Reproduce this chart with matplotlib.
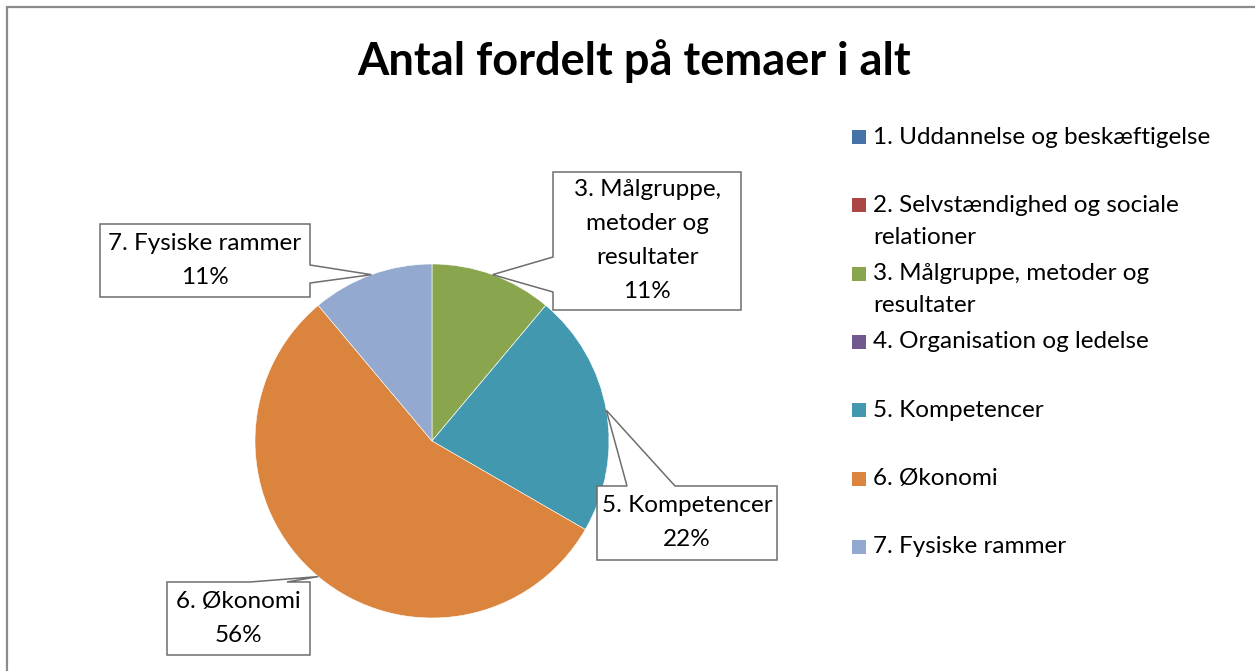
import matplotlib

matplotlib.use("Agg")
import matplotlib.pyplot as plt
from matplotlib.patches import Polygon, Rectangle
import numpy as np

plt.rcParams["font.family"] = ["Lato", "DejaVu Sans"]

# data
themes = [
    "1. Uddannelse og beskæftigelse",
    "2. Selvstændighed og sociale relationer",
    "3. Målgruppe, metoder og resultater",
    "4. Organisation og ledelse",
    "5. Kompetencer",
    "6. Økonomi",
    "7. Fysiske rammer",
]
legend_text = [
    "1. Uddannelse og beskæftigelse",
    "2. Selvstændighed og sociale\nrelationer",
    "3. Målgruppe, metoder og\nresultater",
    "4. Organisation og ledelse",
    "5. Kompetencer",
    "6. Økonomi",
    "7. Fysiske rammer",
]
counts = [0, 0, 1, 0, 2, 5, 1]
colors = ["#4572A7", "#AA4643", "#89A54E", "#71588F", "#4198AF", "#DB843D", "#93A9CF"]
label_text = {
    2: "3. Målgruppe,\nmetoder og\nresultater",
    4: "5. Kompetencer",
    5: "6. Økonomi",
    6: "7. Fysiske rammer",
}

W, H = 1255, 671
fig = plt.figure(figsize=(W / 100, H / 100), dpi=100)
ax = fig.add_axes([0, 0, 1, 1])


def py(y):
    # pixel row -> data y
    return H - y


cx, cy, r = 432, py(441), 177
wedges, _ = ax.pie(counts, colors=colors, startangle=90, counterclock=False,
                   center=(cx, cy), radius=r, frame=True,
                   wedgeprops=dict(edgecolor="white", linewidth=0.4))
ax.set_xlim(0, W)
ax.set_ylim(0, H)
ax.set_aspect("equal")
ax.axis("off")

# outer chart border
ax.plot([7, 7, W], [0, py(7), py(7)], color="#8c8c8c", lw=1.6, solid_joinstyle="miter")

ax.text(634, py(61), "Antal fordelt på temaer i alt", ha="center", va="center",
        fontsize=32.5, fontweight="bold")

# callout boxes: (x0, y0, x1, y1) in pixels, side of the pointer, base points along that side
boxes = {
    2: ((553, 172, 741, 310), "left", (257, 292)),
    4: ((597, 486, 777, 560), "top", (627, 675)),
    5: ((167, 582, 310, 655), "top", (250, 287)),
    6: ((100, 224, 310, 297), "right", (265, 283)),
}

total = sum(counts)
for i, (rect, side, base) in boxes.items():
    w = wedges[i]
    mid = np.deg2rad((w.theta1 + w.theta2) / 2)
    tip = (cx + r * np.cos(mid), cy + r * np.sin(mid))
    x0, y0, x1, y1 = rect
    if side == "left":
        pts = [(x0, py(y0)), (x1, py(y0)), (x1, py(y1)), (x0, py(y1)), (x0, py(base[1])),
               tip, (x0, py(base[0]))]
    elif side == "right":
        pts = [(x0, py(y0)), (x1, py(y0)), (x1, py(base[0])), tip, (x1, py(base[1])),
               (x1, py(y1)), (x0, py(y1))]
    else:
        pts = [(x0, py(y0)), (base[0], py(y0)), tip, (base[1], py(y0)), (x1, py(y0)),
               (x1, py(y1)), (x0, py(y1))]
    ax.add_patch(Polygon(pts, closed=True, facecolor="white", edgecolor="#6e6e6e",
                         lw=1.1, zorder=5))
    pct = round(100 * counts[i] / total)
    lines = f"{label_text[i]}\n{pct}%".split("\n")
    ymid = (y0 + y1) / 2
    for j, ln in enumerate(lines):
        yl = ymid + 34 * (j - (len(lines) - 1) / 2)
        ax.text((x0 + x1) / 2, py(yl), ln, ha="center", va="center",
                fontsize=17.5, zorder=6)

# legend
for k, (lab, col) in enumerate(zip(legend_text, colors)):
    yk = 137 + 68.3 * k
    ax.add_patch(Rectangle((852, py(yk + 7)), 14, 14, facecolor=col, edgecolor="none"))
    for j, ln in enumerate(lab.split("\n")):
        ax.text(873, py(yk + 32 * j), ln, ha="left", va="center", fontsize=17.5)

fig.savefig("out.png", dpi=100, facecolor="white")
